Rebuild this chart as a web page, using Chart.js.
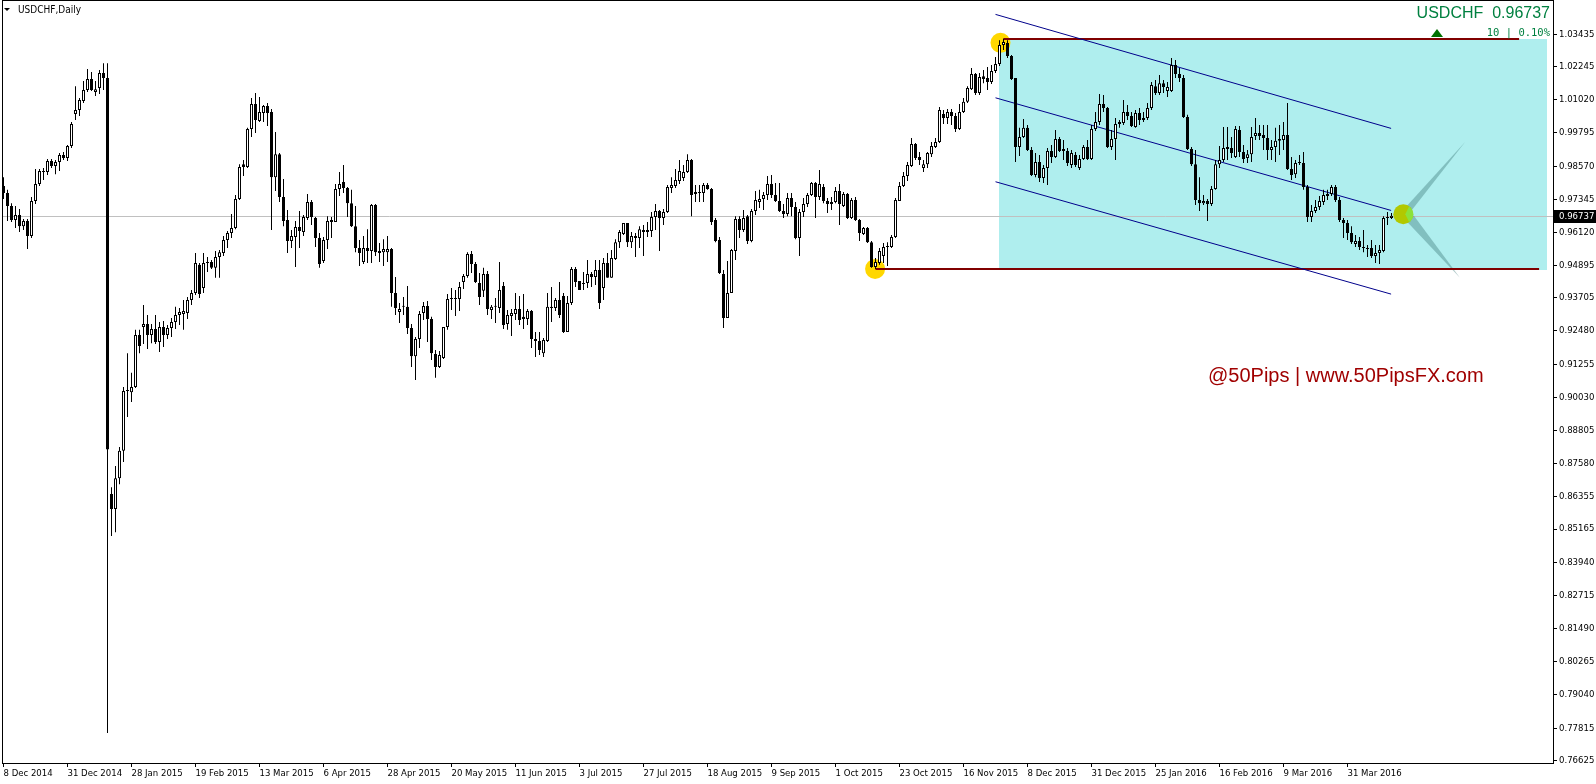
<!DOCTYPE html>
<html>
<head>
<meta charset="utf-8">
<title>USDCHF Daily</title>
<script src="https://cdn.jsdelivr.net/npm/chart.js@4.4.1/dist/chart.umd.min.js"></script>
<style>
  html, body { margin: 0; padding: 0; background: #fff; }
  #wrap { position: relative; width: 1596px; height: 784px; }
</style>
</head>
<body>
<div id="wrap"><canvas id="chart"></canvas></div>
<script>
// USDCHF daily candles, 8 Dec 2014 .. mid Apr 2016 (one value per bar)
const opens = [
  0.9783,0.9757,0.9709,0.9658,0.9676,0.9635,0.9654,0.9599,0.9728,0.9791,
  0.9839,0.9835,0.9876,0.9857,0.9872,0.9898,0.9887,0.9931,1.0049,1.0064,
  1.0097,1.0138,1.0178,1.0130,1.0145,1.0201,1.0182,0.8646,0.8590,0.8704,
  0.8806,0.9026,0.9022,0.9041,0.9233,0.9263,0.9274,0.9233,0.9255,0.9207,
  0.9263,0.9233,0.9259,0.9281,0.9307,0.9311,0.9314,0.9362,0.9388,0.9492,
  0.9407,0.9499,0.9503,0.9481,0.9521,0.9536,0.9584,0.9610,0.9628,0.9735,
  0.9864,0.9853,0.9994,1.0086,1.0023,1.0053,1.0079,1.0057,0.9816,0.9901,
  0.9743,0.9658,0.9580,0.9595,0.9632,0.9613,0.9665,0.9724,0.9665,0.9591,
  0.9506,0.9584,0.9650,0.9650,0.9772,0.9798,0.9776,0.9720,0.9635,0.9554,
  0.9503,0.9554,0.9543,0.9713,0.9543,0.9539,0.9539,0.9551,0.9388,0.9318,
  0.9337,0.9337,0.9259,0.9155,0.9218,0.9314,0.9340,0.9292,0.9163,0.9115,
  0.9148,0.9263,0.9366,0.9366,0.9366,0.9429,0.9451,0.9532,0.9495,0.9425,
  0.9396,0.9458,0.9325,0.9337,0.9333,0.9414,0.9274,0.9303,0.9311,0.9329,
  0.9300,0.9292,0.9322,0.9218,0.9211,0.9166,0.9211,0.9337,0.9333,0.9362,
  0.9377,0.9244,0.9351,0.9477,0.9432,0.9421,0.9425,0.9458,0.9447,0.9473,
  0.9407,0.9499,0.9444,0.9514,0.9576,0.9606,0.9647,0.9576,0.9599,0.9591,
  0.9621,0.9613,0.9617,0.9669,0.9691,0.9665,0.9687,0.9776,0.9783,0.9802,
  0.9813,0.9835,0.9879,0.9754,0.9761,0.9757,0.9787,0.9772,0.9658,0.9584,
  0.9458,0.9296,0.9388,0.9543,0.9661,0.9621,0.9672,0.9580,0.9691,0.9724,
  0.9735,0.9750,0.9791,0.9750,0.9728,0.9691,0.9680,0.9739,0.9706,0.9591,
  0.9687,0.9717,0.9750,0.9794,0.9743,0.9780,0.9728,0.9717,0.9724,0.9765,
  0.9709,0.9754,0.9665,0.9732,0.9658,0.9606,0.9628,0.9576,0.9484,0.9499,
  0.9525,0.9562,0.9558,0.9595,0.9728,0.9783,0.9820,0.9857,0.9938,0.9890,
  0.9850,0.9864,0.9901,0.9927,0.9946,1.0049,1.0034,1.0057,1.0042,0.9994,
  1.0057,1.0094,1.0141,1.0197,1.0127,1.0189,1.0182,1.0167,1.0208,1.0234,
  1.0304,1.0311,1.0263,1.0182,0.9927,0.9964,0.9998,0.9916,0.9824,0.9872,
  0.9813,0.9850,0.9913,0.9890,0.9957,0.9920,0.9913,0.9861,0.9898,0.9850,
  0.9883,0.9927,0.9883,0.9994,1.0020,1.0086,1.0071,0.9927,0.9957,1.0012,
  1.0016,1.0057,1.0042,1.0001,1.0053,1.0034,1.0034,1.0071,1.0152,1.0127,
  1.0163,1.0134,1.0134,1.0230,1.0197,1.0182,1.0038,0.9920,0.9864,0.9732,
  0.9720,0.9728,0.9717,0.9772,0.9864,0.9879,0.9927,0.9924,0.9890,0.9990,
  0.9909,0.9887,0.9901,0.9968,0.9979,0.9972,0.9961,0.9916,0.9927,0.9950,
  0.9953,0.9972,0.9846,0.9827,0.9872,0.9868,0.9780,0.9669,0.9691,0.9706,
  0.9724,0.9754,0.9754,0.9780,0.9732,0.9658,0.9647,0.9610,0.9569,0.9580,
  0.9558,0.9554,0.9554,0.9525,0.9536,0.9543,0.9665,0.9665
];
const highs = [
  0.9816,0.9769,0.9720,0.9709,0.9698,0.9661,0.9661,0.9743,0.9846,0.9846,
  0.9850,0.9883,0.9883,0.9879,0.9905,0.9909,0.9935,1.0020,1.0152,1.0108,
  1.0171,1.0215,1.0204,1.0171,1.0212,1.0237,1.0237,0.8671,0.8749,0.8819,
  0.9041,0.9166,0.9094,0.9252,0.9252,0.9344,0.9307,0.9274,0.9307,0.9281,
  0.9285,0.9270,0.9296,0.9337,0.9333,0.9362,0.9373,0.9399,0.9536,0.9499,
  0.9536,0.9521,0.9510,0.9543,0.9547,0.9599,0.9617,0.9680,0.9750,0.9864,
  0.9879,0.9998,1.0108,1.0127,1.0112,1.0082,1.0090,1.0068,0.9983,0.9905,
  0.9809,0.9695,0.9621,0.9654,0.9691,0.9676,0.9754,0.9732,0.9669,0.9610,
  0.9595,0.9672,0.9669,0.9791,0.9835,0.9861,0.9780,0.9769,0.9709,0.9584,
  0.9599,0.9624,0.9717,0.9717,0.9573,0.9587,0.9599,0.9554,0.9447,0.9351,
  0.9373,0.9414,0.9274,0.9226,0.9322,0.9355,0.9359,0.9300,0.9178,0.9174,
  0.9263,0.9384,0.9407,0.9399,0.9429,0.9458,0.9539,0.9543,0.9503,0.9462,
  0.9481,0.9469,0.9344,0.9370,0.9503,0.9429,0.9325,0.9329,0.9388,0.9377,
  0.9384,0.9329,0.9325,0.9244,0.9244,0.9222,0.9388,0.9410,0.9370,0.9429,
  0.9388,0.9377,0.9484,0.9484,0.9432,0.9466,0.9510,0.9466,0.9510,0.9510,
  0.9517,0.9536,0.9547,0.9587,0.9621,0.9647,0.9647,0.9613,0.9610,0.9635,
  0.9639,0.9650,0.9687,0.9717,0.9695,0.9698,0.9787,0.9816,0.9846,0.9879,
  0.9861,0.9901,0.9883,0.9787,0.9787,0.9794,0.9794,0.9776,0.9665,0.9595,
  0.9473,0.9506,0.9551,0.9672,0.9672,0.9695,0.9676,0.9698,0.9765,0.9769,
  0.9761,0.9820,0.9824,0.9794,0.9794,0.9717,0.9757,0.9757,0.9724,0.9698,
  0.9739,0.9757,0.9798,0.9798,0.9842,0.9791,0.9739,0.9743,0.9780,0.9791,
  0.9761,0.9757,0.9739,0.9743,0.9661,0.9632,0.9632,0.9580,0.9517,0.9554,
  0.9573,0.9576,0.9602,0.9739,0.9798,0.9835,0.9872,0.9961,0.9942,0.9909,
  0.9879,0.9909,0.9946,0.9961,1.0075,1.0064,1.0068,1.0068,1.0053,1.0086,
  1.0108,1.0152,1.0219,1.0201,1.0201,1.0212,1.0223,1.0230,1.0260,1.0322,
  1.0327,1.0322,1.0267,1.0182,0.9998,1.0031,1.0009,0.9927,0.9905,0.9898,
  0.9861,0.9924,0.9935,0.9990,0.9964,0.9953,0.9924,0.9916,0.9909,0.9898,
  0.9935,0.9953,1.0009,1.0057,1.0123,1.0119,1.0075,0.9990,1.0034,1.0027,
  1.0101,1.0082,1.0057,1.0064,1.0071,1.0057,1.0090,1.0167,1.0175,1.0193,
  1.0175,1.0167,1.0256,1.0249,1.0219,1.0193,1.0046,0.9927,0.9916,0.9816,
  0.9750,0.9735,0.9783,0.9879,0.9931,1.0001,1.0001,0.9964,1.0005,1.0005,
  0.9935,0.9916,1.0001,1.0034,1.0009,1.0009,1.0009,0.9953,0.9998,1.0009,
  1.0020,1.0090,0.9890,0.9879,0.9898,0.9909,0.9787,0.9713,0.9732,0.9746,
  0.9769,0.9769,0.9787,0.9787,0.9743,0.9665,0.9658,0.9635,0.9602,0.9595,
  0.9621,0.9565,0.9584,0.9565,0.9565,0.9672,0.9687,0.9684
];
const lows = [
  0.9735,0.9654,0.9650,0.9628,0.9613,0.9621,0.9551,0.9591,0.9717,0.9783,
  0.9805,0.9824,0.9850,0.9827,0.9839,0.9879,0.9876,0.9924,1.0027,1.0042,
  1.0090,1.0130,1.0134,1.0116,1.0123,1.0138,0.7763,0.8491,0.8505,0.8682,
  0.8764,0.8930,0.8986,0.9037,0.9166,0.9200,0.9181,0.9203,0.9200,0.9170,
  0.9189,0.9218,0.9226,0.9255,0.9270,0.9252,0.9292,0.9344,0.9381,0.9370,
  0.9388,0.9466,0.9477,0.9444,0.9444,0.9525,0.9554,0.9591,0.9624,0.9732,
  0.9820,0.9850,0.9964,0.9979,1.0020,1.0020,1.0005,0.9621,0.9765,0.9724,
  0.9635,0.9536,0.9554,0.9484,0.9554,0.9599,0.9658,0.9639,0.9558,0.9481,
  0.9499,0.9551,0.9591,0.9650,0.9746,0.9757,0.9669,0.9632,0.9539,0.9488,
  0.9495,0.9499,0.9499,0.9525,0.9503,0.9488,0.9503,0.9337,0.9307,0.9277,
  0.9307,0.9237,0.9115,0.9067,0.9185,0.9288,0.9207,0.9141,0.9075,0.9111,
  0.9144,0.9252,0.9325,0.9303,0.9322,0.9403,0.9444,0.9462,0.9425,0.9344,
  0.9373,0.9307,0.9292,0.9277,0.9314,0.9255,0.9252,0.9229,0.9288,0.9270,
  0.9255,0.9270,0.9185,0.9152,0.9159,0.9152,0.9207,0.9281,0.9322,0.9296,
  0.9240,0.9244,0.9344,0.9410,0.9399,0.9399,0.9407,0.9410,0.9418,0.9329,
  0.9362,0.9444,0.9444,0.9510,0.9554,0.9602,0.9558,0.9554,0.9521,0.9554,
  0.9525,0.9595,0.9595,0.9621,0.9543,0.9639,0.9684,0.9757,0.9776,0.9791,
  0.9802,0.9831,0.9672,0.9724,0.9724,0.9724,0.9769,0.9639,0.9576,0.9458,
  0.9259,0.9296,0.9388,0.9510,0.9591,0.9613,0.9569,0.9576,0.9676,0.9702,
  0.9695,0.9732,0.9739,0.9724,0.9687,0.9665,0.9672,0.9672,0.9587,0.9525,
  0.9669,0.9706,0.9746,0.9665,0.9732,0.9720,0.9684,0.9695,0.9720,0.9639,
  0.9706,0.9661,0.9661,0.9654,0.9580,0.9602,0.9573,0.9481,0.9477,0.9492,
  0.9499,0.9488,0.9554,0.9591,0.9728,0.9780,0.9802,0.9853,0.9879,0.9861,
  0.9835,0.9850,0.9890,0.9924,0.9942,1.0012,1.0012,1.0009,0.9983,0.9990,
  1.0053,1.0090,1.0138,1.0119,1.0119,1.0163,1.0138,1.0160,1.0201,1.0226,
  1.0286,1.0256,1.0175,0.9872,0.9894,0.9961,0.9913,0.9820,0.9816,0.9798,
  0.9794,0.9787,0.9868,0.9887,0.9909,0.9879,0.9857,0.9850,0.9853,0.9842,
  0.9879,0.9879,0.9879,0.9986,1.0009,1.0057,0.9924,0.9916,0.9879,0.9998,
  1.0009,1.0027,1.0001,0.9998,1.0009,1.0020,1.0027,1.0064,1.0119,1.0119,
  1.0127,1.0112,1.0130,1.0182,1.0167,1.0034,0.9916,0.9857,0.9713,0.9691,
  0.9713,0.9654,0.9709,0.9769,0.9850,0.9872,0.9879,0.9887,0.9887,0.9890,
  0.9868,0.9868,0.9872,0.9953,0.9953,0.9916,0.9879,0.9879,0.9872,0.9898,
  0.9916,0.9842,0.9805,0.9813,0.9861,0.9769,0.9650,0.9650,0.9684,0.9695,
  0.9713,0.9732,0.9746,0.9724,0.9650,0.9591,0.9584,0.9569,0.9558,0.9547,
  0.9539,0.9521,0.9517,0.9499,0.9495,0.9539,0.9639,0.9661
];
const closes = [
  0.9757,0.9709,0.9658,0.9676,0.9635,0.9654,0.9599,0.9728,0.9791,0.9839,
  0.9835,0.9876,0.9857,0.9872,0.9898,0.9887,0.9931,1.0012,1.0064,1.0101,
  1.0138,1.0178,1.0138,1.0141,1.0201,1.0182,0.8810,0.8590,0.8704,0.8806,
  0.9026,0.9030,0.9041,0.9233,0.9192,0.9274,0.9233,0.9255,0.9207,0.9263,
  0.9233,0.9259,0.9281,0.9307,0.9318,0.9322,0.9362,0.9388,0.9499,0.9384,
  0.9499,0.9503,0.9481,0.9521,0.9539,0.9584,0.9610,0.9628,0.9735,0.9853,
  0.9853,0.9994,1.0086,1.0027,1.0057,1.0079,1.0053,0.9816,0.9901,0.9743,
  0.9654,0.9580,0.9599,0.9632,0.9617,0.9669,0.9724,0.9669,0.9591,0.9495,
  0.9584,0.9654,0.9658,0.9772,0.9791,0.9776,0.9720,0.9635,0.9554,0.9536,
  0.9554,0.9543,0.9713,0.9539,0.9536,0.9551,0.9551,0.9388,0.9333,0.9329,
  0.9340,0.9259,0.9155,0.9218,0.9311,0.9340,0.9292,0.9166,0.9115,0.9159,
  0.9263,0.9366,0.9370,0.9370,0.9410,0.9451,0.9532,0.9495,0.9429,0.9373,
  0.9458,0.9329,0.9337,0.9340,0.9399,0.9270,0.9307,0.9314,0.9329,0.9288,
  0.9292,0.9322,0.9218,0.9211,0.9178,0.9215,0.9337,0.9333,0.9362,0.9307,
  0.9244,0.9351,0.9477,0.9429,0.9399,0.9425,0.9458,0.9447,0.9473,0.9351,
  0.9499,0.9444,0.9517,0.9576,0.9613,0.9647,0.9576,0.9599,0.9591,0.9624,
  0.9613,0.9621,0.9669,0.9691,0.9665,0.9687,0.9780,0.9787,0.9805,0.9839,
  0.9835,0.9879,0.9750,0.9761,0.9757,0.9787,0.9772,0.9650,0.9580,0.9462,
  0.9296,0.9388,0.9547,0.9661,0.9621,0.9665,0.9580,0.9691,0.9732,0.9735,
  0.9750,0.9791,0.9750,0.9728,0.9691,0.9680,0.9739,0.9706,0.9591,0.9687,
  0.9717,0.9750,0.9794,0.9743,0.9791,0.9728,0.9717,0.9724,0.9765,0.9717,
  0.9754,0.9665,0.9732,0.9658,0.9610,0.9628,0.9576,0.9484,0.9503,0.9543,
  0.9558,0.9558,0.9595,0.9732,0.9783,0.9820,0.9861,0.9938,0.9887,0.9879,
  0.9864,0.9905,0.9931,0.9946,1.0064,1.0034,1.0057,1.0042,0.9994,1.0057,
  1.0094,1.0145,1.0197,1.0127,1.0186,1.0178,1.0167,1.0208,1.0234,1.0304,
  1.0315,1.0263,1.0178,0.9927,0.9964,0.9998,0.9916,0.9824,0.9872,0.9813,
  0.9850,0.9913,0.9890,0.9957,0.9913,0.9913,0.9868,0.9905,0.9861,0.9883,
  0.9927,0.9883,0.9994,1.0020,1.0086,1.0071,0.9927,0.9957,1.0012,1.0020,
  1.0057,1.0042,1.0005,1.0053,1.0027,1.0027,1.0071,1.0156,1.0127,1.0163,
  1.0149,1.0149,1.0230,1.0197,1.0182,1.0038,0.9920,0.9864,0.9732,0.9720,
  0.9728,0.9717,0.9772,0.9864,0.9879,0.9924,0.9920,0.9905,0.9994,0.9909,
  0.9883,0.9901,0.9964,0.9979,0.9968,0.9961,0.9916,0.9927,0.9950,0.9957,
  0.9972,0.9846,0.9824,0.9868,0.9868,0.9780,0.9669,0.9691,0.9706,0.9728,
  0.9750,0.9746,0.9780,0.9732,0.9658,0.9647,0.9610,0.9576,0.9580,0.9558,
  0.9554,0.9551,0.9525,0.9536,0.9547,0.9665,0.9669,0.96737
];

// time axis: one label every 16 bars
const dateLabels = ['8 Dec 2014','31 Dec 2014','28 Jan 2015','19 Feb 2015','13 Mar 2015','6 Apr 2015',
  '28 Apr 2015','20 May 2015','11 Jun 2015','3 Jul 2015','27 Jul 2015','18 Aug 2015','9 Sep 2015',
  '1 Oct 2015','23 Oct 2015','16 Nov 2015','8 Dec 2015','31 Dec 2015','25 Jan 2016','16 Feb 2016',
  '9 Mar 2016','31 Mar 2016'];
const barsPerLabel = 16;

// price scale labels
const priceTicks = [1.03435,1.02245,1.01020,0.99795,0.98570,0.97345,0.96120,0.94895,0.93705,0.92480,
  0.91255,0.90030,0.88805,0.87580,0.86355,0.85165,0.83940,0.82715,0.81490,0.80265,0.79040,0.77815,0.76625];
const lastPrice = 0.96737;

// drawn objects, in (bar index, price)
const boxBars = [248.75, 385.8];
const boxPrices = [1.0325, 0.9473];
const highLineBars = [250, 378.9];
const highLinePrice = 1.0327;
const lowLineBars = [218, 383.9];
const lowLinePrice = 0.9477;
const channelBars = [248, 346.9];
const channelUpper = [1.0417, 0.9996];
const channelMiddle = [1.0109, 0.9693];
const channelLower = [0.9799, 0.9384];
const markerBars = [249.25, 217.9];
const markerPrices = [1.0312, 0.9477];
const nowMarker = [349.95, 0.9679];
const wedgeUpBars = [348.6, 352.1, 365.4];
const wedgeUpPrices = [0.9673, 0.9695, 0.9946];
const wedgeDownBars = [348.6, 352.6, 364.1];
const wedgeDownPrices = [0.9687, 0.9673, 0.9444];

const fontFamily = "'DejaVu Sans Condensed', 'Liberation Sans', Arial, sans-serif";
const axisFont = { family: fontFamily, size: 9.5 };

const mt4Objects = {
  id: 'mt4Objects',
  beforeDatasetsDraw(chart) {
    const { ctx, chartArea: a, scales: { x, y } } = chart;
    const px = v => x.getPixelForValue(v);
    const py = v => y.getPixelForValue(v);
    ctx.save();
    ctx.beginPath();
    ctx.rect(a.left, a.top, a.right - a.left, a.bottom - a.top);
    ctx.clip();

    // cyan box
    ctx.fillStyle = '#AFEEEE';
    ctx.fillRect(Math.round(px(boxBars[0])), Math.round(py(boxPrices[0])),
      Math.round(px(boxBars[1]) - px(boxBars[0])), Math.round(py(boxPrices[1]) - py(boxPrices[0])));

    // bid line
    const by = Math.round(py(lastPrice)) + 0.5;
    ctx.strokeStyle = '#C0C0C0';
    ctx.lineWidth = 1;
    ctx.beginPath();
    ctx.moveTo(a.left, by);
    ctx.lineTo(a.right, by);
    ctx.stroke();

    // projection wedges
    ctx.fillStyle = 'rgba(60,120,120,0.4)';
    [[wedgeUpBars, wedgeUpPrices], [wedgeDownBars, wedgeDownPrices]].forEach(([b, p]) => {
      ctx.beginPath();
      ctx.moveTo(px(b[0]), py(p[0]));
      ctx.lineTo(px(b[1]), py(p[1]));
      ctx.lineTo(px(b[2]), py(p[2]));
      ctx.closePath();
      ctx.fill();
    });

    // yellow markers
    ctx.fillStyle = '#FFD700';
    markerBars.forEach((b, k) => {
      ctx.beginPath();
      ctx.arc(px(b), py(markerPrices[k]), 10, 0, Math.PI * 2);
      ctx.fill();
    });

    // current marker (two-tone green)
    const gx = px(nowMarker[0]), gy = py(nowMarker[1]);
    ctx.fillStyle = '#B2C800';
    ctx.beginPath();
    ctx.arc(gx, gy, 10, 0, Math.PI * 2);
    ctx.fill();
    ctx.fillStyle = '#8CE23A';
    ctx.beginPath();
    ctx.arc(gx, gy, 10, -Math.PI * 0.3, Math.PI * 0.3);
    ctx.lineTo(gx + 2, gy);
    ctx.closePath();
    ctx.fill();

    // horizontal levels
    ctx.strokeStyle = '#800000';
    ctx.lineWidth = 2;
    [[highLineBars, highLinePrice], [lowLineBars, lowLinePrice]].forEach(([b, p]) => {
      const ly = Math.round(py(p));
      ctx.beginPath();
      ctx.moveTo(px(b[0]), ly);
      ctx.lineTo(px(b[1]), ly);
      ctx.stroke();
    });

    // channel
    ctx.strokeStyle = '#00008B';
    ctx.lineWidth = 1;
    [channelUpper, channelMiddle, channelLower].forEach(p => {
      ctx.beginPath();
      ctx.moveTo(px(channelBars[0]), py(p[0]));
      ctx.lineTo(px(channelBars[1]), py(p[1]));
      ctx.stroke();
    });
    ctx.restore();
  },
  afterDraw(chart) {
    const { ctx, chartArea: a, scales: { y } } = chart;
    ctx.save();
    // frame
    ctx.strokeStyle = '#000';
    ctx.lineWidth = 1;
    ctx.strokeRect(2.5, 0.5, a.right - 2, a.bottom);

    // bid price box on axis
    const by = Math.round(y.getPixelForValue(lastPrice));
    ctx.fillStyle = '#000';
    ctx.fillRect(a.right + 1, by - 6, 1596 - a.right - 1, 13);
    ctx.fillStyle = '#fff';
    ctx.font = '9.5px ' + fontFamily;
    ctx.textBaseline = 'middle';
    ctx.textAlign = 'left';
    ctx.fillText(lastPrice.toFixed(5), a.right + 6, by + 1);

    // title
    ctx.fillStyle = '#000';
    ctx.beginPath();
    ctx.moveTo(4, 8); ctx.lineTo(10, 8); ctx.lineTo(7, 11); ctx.closePath();
    ctx.fill();
    ctx.font = '10px ' + fontFamily;
    ctx.textBaseline = 'alphabetic';
    ctx.fillText('USDCHF,Daily', 18, 13);

    // symbol / price label
    ctx.fillStyle = '#008040';
    ctx.textAlign = 'right';
    ctx.font = "16px 'Liberation Sans', Arial, sans-serif";
    ctx.fillText('USDCHF  ' + lastPrice.toFixed(5), 1550, 18);
    ctx.font = "10.5px 'DejaVu Sans Mono', monospace";
    ctx.fillText('10 | 0.10%', 1550, 36);
    ctx.fillStyle = '#007000';
    ctx.beginPath();
    ctx.moveTo(1437, 29); ctx.lineTo(1443, 37); ctx.lineTo(1431, 37); ctx.closePath();
    ctx.fill();

    // watermark
    ctx.fillStyle = '#A00000';
    ctx.textAlign = 'left';
    ctx.textBaseline = 'middle';
    ctx.font = "20px 'Liberation Sans', Arial, sans-serif";
    ctx.fillText('@50Pips | www.50PipsFX.com', 1208, 376);
    ctx.restore();
  }
};

const bars = opens.map((_, i) => i);

new Chart(document.getElementById('chart'), {
  type: 'bar',
  data: {
    datasets: [
      {
        label: 'body',
        data: bars.map(i => ({ x: i, y: [opens[i], closes[i]] })),
        order: 1,
        grouped: false,
        barThickness: 3,
        borderWidth: 1,
        borderColor: '#000',
        borderSkipped: false,
        minBarLength: 1,
        inflateAmount: 0,
        backgroundColor: c => closes[c.dataIndex] >= opens[c.dataIndex] ? '#fff' : '#000'
      },
      {
        label: 'wick',
        data: bars.map(i => ({ x: i, y: [lows[i], highs[i]] })),
        order: 2,
        grouped: false,
        barThickness: 1,
        borderWidth: 0,
        inflateAmount: 0,
        backgroundColor: '#000'
      }
    ]
  },
  options: {
    responsive: true,
    maintainAspectRatio: false,
    animation: false,
    layout: { padding: { left: 2, top: 1, right: 0, bottom: 0 } },
    plugins: { legend: { display: false }, tooltip: { enabled: false } },
    scales: {
      x: {
        type: 'linear',
        min: -0.375,
        max: 387.375,
        offset: false,
        bounds: 'data',
        afterBuildTicks: s => { s.ticks = dateLabels.map((_, k) => ({ value: k * barsPerLabel })); },
        afterFit: s => { s.height = 21; s.paddingLeft = 0; s.paddingRight = 0; },
        border: { display: false },
        grid: { offset: false, drawOnChartArea: false, drawTicks: true, tickLength: 4, color: '#000' },
        ticks: {
          align: 'start', maxRotation: 0, minRotation: 0, autoSkip: false, padding: 1,
          color: '#000', font: axisFont,
          callback: (v, idx) => dateLabels[idx]
        }
      },
      y: {
        position: 'right',
        min: 0.76524,
        max: 1.04665,
        beginAtZero: false,
        bounds: 'data',
        afterBuildTicks: s => { s.ticks = priceTicks.map(v => ({ value: v })); },
        afterFit: s => { s.width = 43; s.paddingTop = 0; s.paddingBottom = 0; },
        border: { display: false },
        grid: { drawOnChartArea: false, drawTicks: true, tickLength: 4, color: '#000' },
        ticks: { padding: 2, color: '#000', font: axisFont, callback: v => v.toFixed(5) }
      }
    }
  },
  plugins: [mt4Objects]
});
</script>
</body>
</html>
